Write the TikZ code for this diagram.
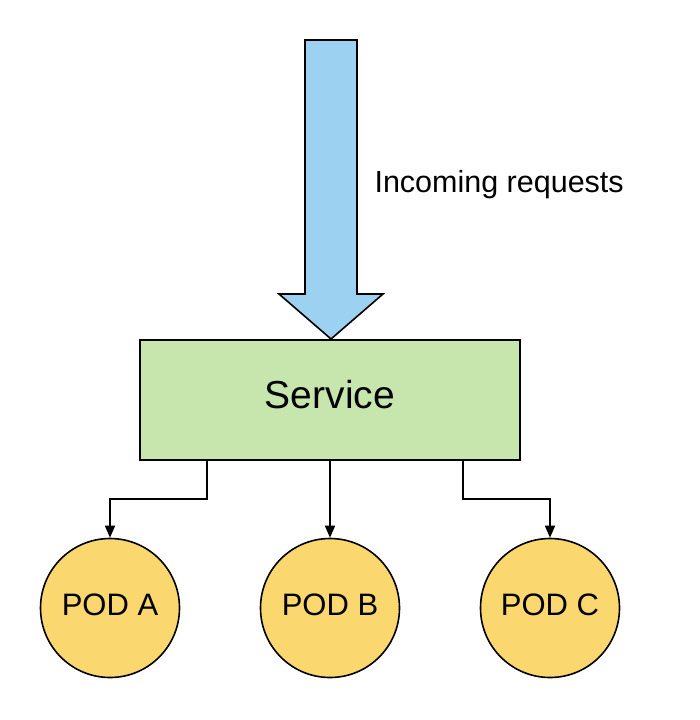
\documentclass[tikz,border=0pt]{standalone}
\usepackage{fontspec}
\setmainfont{Liberation Sans}
\usetikzlibrary{arrows.meta}
\definecolor{arrowblue}{HTML}{9DD1F1}
\definecolor{svcgreen}{HTML}{C6E6AE}
\definecolor{podyellow}{HTML}{FBD76F}
\begin{document}
\begin{tikzpicture}[x=1pt,y=-1pt,
  conn/.style={draw=black,line width=1.6pt,-{Triangle[width=10pt,length=12pt]}},
  pod/.style={circle,draw=black,line width=1.6pt,fill=podyellow,minimum size=139pt,inner sep=0pt},
  podtext/.style={font=\fontsize{31}{36}\selectfont},
  svc/.style={rectangle,draw=black,line width=1.6pt,fill=svcgreen,minimum width=380pt,minimum height=120pt,inner sep=0pt}]
\useasboundingbox (0,0) rectangle (700,720);
\fill[white] (0,0) rectangle (700,720);
% big arrow
\draw[line width=1.6pt,fill=arrowblue,line join=miter]
  (305,40) -- (357,40) -- (357,294) -- (383,294) -- (331,339) -- (279,294) -- (305,294) -- cycle;
\node[anchor=west,font=\fontsize{30.5}{36}\selectfont] (lbl) at (371,185) {Incoming requests};
\node[svc] (service) at (330,400) {};
\node[font=\fontsize{39}{46}\selectfont] (svclbl) at (330,395) {Service};
\node[pod] (podA) at (110,608) {};
\node[pod] (podB) at (330,608) {};
\node[pod] (podC) at (550,608) {};
\node[podtext] (la) at (110,605) {POD A};
\node[podtext] (lb) at (330,605) {POD B};
\node[podtext] (lc) at (550,605) {POD C};
\draw[conn] (service.south -| 207,0) |- (110,499) -- (podA.north);
\draw[conn] (service.south) -- (podB.north);
\draw[conn] (service.south -| 463,0) |- (550,499) -- (podC.north);
\end{tikzpicture}
\end{document}
